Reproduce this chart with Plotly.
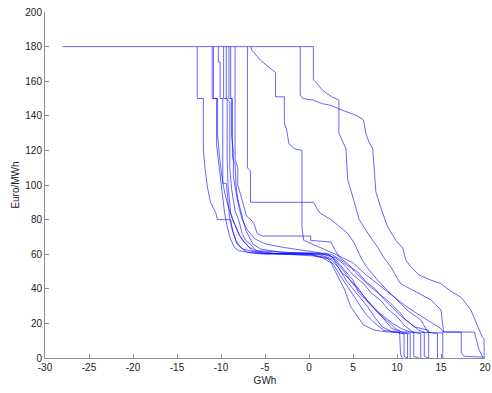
import plotly.graph_objects as go

# Curves (x in GWh, y in Euro/MWh)
c1_x = [-28, 0.5, 0.5, 1.0, 1.5, 2.0, 2.6, 3.4, 3.4, 4.2, 4.3, 4.4, 5.1, 5.7, 6.7, 7.8, 8.5, 9.3, 10.4, 12.4, 13.9, 15.0, 15.3, 17.3, 17.3, 17.6, 19.8]
c1_y = [180, 180, 161, 158, 155, 153, 151, 149, 130, 121, 114, 103, 91, 80, 72, 64, 58, 52.6, 43, 37.6, 33.5, 27.7, 15, 15, 3, 1, 0.5]

c2_x = [-1.0, -1.0, -0.7, 0.5, 1.5, 2.5, 3.4, 4.5, 5.5, 6.2, 6.45, 6.8, 7.24, 7.4, 7.6, 8.15, 8.95, 9.86, 10.66, 11.0, 11.6, 12.5, 13.85, 15.0, 16.0, 17.3, 18.4, 19.2, 19.7, 19.9, 19.9]
c2_y = [180, 152, 150, 149, 147, 146, 144, 142, 140, 137.6, 130, 125, 121, 110, 96, 87, 75.7, 68, 63.6, 56.6, 52.6, 48, 45, 43, 39, 35, 27.7, 18, 12, 11, 0]

c3_x = [-12.7, -12.7, -12.0, -12.0, -11.8, -11.55, -11.2, -10.6, -10.4, -8.9, -8.7, -8.3, -7.8, -7.0, -5.0, 0.0, 1.5, 2.5, 3.0, 3.5, 4.0, 4.7, 5.5, 6.2, 7.5, 9.0, 10.3, 10.4, 10.6]
c3_y = [180, 150, 150, 120, 109, 99, 90, 84, 80, 80, 74, 68, 64, 61, 60, 60, 58, 55, 50, 45, 40, 30, 24, 19, 16, 15, 15, 2, 0]

c4_x = [-11.0, -11.0, -10.5, -10.5, -10.2, -10.0, -9.8, -9.6, -9.3, -9.0, -8.5, -8.0, -6.0, 0.0, 2.0, 2.8, 3.5, 4.3, 5.0, 5.8, 6.5, 7.5, 8.5, 10.0, 10.8, 10.8, 11.2]
c4_y = [180, 150, 150, 123, 110, 100, 92, 84, 76, 70, 64, 62, 60.5, 60, 58, 54, 48, 42, 36, 30, 25, 20, 16, 15, 14, 1, 0]

c5_x = [-10.3, -10.3, -10.1, -10.1, -9.8, -9.8, -9.4, -9.2, -9.0, -8.6, -8.2, -7.5, -6.0, 0.5, 2.5, 3.4, 4.2, 5.0, 5.8, 6.6, 7.4, 8.3, 9.5, 11.2, 11.2]
c5_y = [180, 171, 171, 150, 150, 101, 101, 90, 80, 72, 66, 63, 61, 59, 57, 52, 45, 40, 35, 30, 24, 18, 15, 14, 0]

c6_x = [-9.7, -9.7, -9.3, -9.3, -9.2, -9.0, -8.9, -8.5, -8.2, -7.8, -7.2, -6.5, -5.0, 1.0, 2.8, 3.6, 4.5, 5.5, 6.2, 7.0, 7.8, 8.6, 9.4, 10.5, 11.9, 11.9, 12.5]
c6_y = [180, 150, 150, 115, 100, 90, 84, 78, 74, 70, 66, 62, 60.5, 60, 57, 50, 46, 41, 36, 31, 27, 22, 17, 15, 15, 1, 0]

c7_x = [-9.4, -9.4, -9.0, -9.0, -8.8, -8.6, -8.4, -8.0, -7.6, -7.2, -6.5, -6.0, -4.0, 1.5, 3.0, 4.0, 5.0, 6.2, 7.0, 8.2, 9.0, 10.0, 10.8, 11.8, 12.7, 12.7]
c7_y = [180, 150, 148, 110, 98, 92, 85, 80, 72, 68, 65, 62, 60.5, 60, 58, 54, 48, 43, 38, 33, 28, 24, 19, 15, 14, 0]

c8_x = [-8.9, -8.9, -8.7, -8.7, -8.4, -8.3, -8.1, -7.8, -7.5, -7.2, -6.8, -6.4, -5.5, -3.0, 2.5, 3.5, 4.5, 5.5, 6.5, 7.5, 8.5, 9.5, 10.5, 11.5, 12.5, 13.1, 13.1, 13.6]
c8_y = [180, 150, 150, 116, 112, 100, 92, 86, 80, 74, 70, 66, 63, 61, 60, 57, 53, 50, 44, 40, 34, 29, 24, 20, 16, 15, 1, 0]

c9_x = [-8.4, -8.4, -8.1, -8.1, -7.8, -7.5, -7.1, -6.6, -6.2, -5.9, -5.3, 0.2, 0.2, 2.5, 3.0, 3.5, 4.5, 5.2, 6.0, 7.0, 8.0, 9.2, 10.2, 11.0, 12.0, 13.6, 13.6]
c9_y = [180, 115, 110, 100, 95, 90, 82, 80, 77, 72, 70.5, 70.5, 68, 67, 62, 58, 54, 50, 46, 41, 37, 32, 27, 22, 18, 16, 0]

c10_x = [-7.0, -7.0, -6.65, -6.65, 0.5, 1.2, 2.5, 3.5, 4.4, 5.2, 5.9, 6.5, 7.8, 8.9, 10.1, 11.3, 12.7, 13.5, 14.6, 14.6]
c10_y = [180, 110, 108, 90, 90, 84, 80, 76, 72, 66, 58, 53, 45, 39, 33, 27, 22, 15, 14, 0]

c11_x = [-6.6, -6.5, -5.5, -4.5, -3.8, -3.8, -2.8, -2.8, -2.5, -2.3, -1.7, -0.8, -0.8, -0.6, 3.0, 5.0, 6.5, 8.0, 9.5, 11.0, 12.5, 14.0, 15.0, 15.2, 18.8, 19.3, 19.8]
c11_y = [180, 178, 172, 168, 165, 151, 151, 136, 131, 124, 121, 120, 75, 68, 60, 55, 48, 42, 36, 30, 25, 20, 17, 15, 15, 5, 0]

c12_x = [-10.85, -10.85, -10.4, -10.4, -10.2, -9.9, -9.6, -9.2, -8.7, -8.3, -8.0, -7.4, -6.8, -6.0, -2.0, 2.0, 3.0, 4.0, 5.0, 5.6, 6.5, 7.5, 8.5, 9.5, 10.5, 11.5, 15.2, 15.2]
c12_y = [180, 150, 150, 130, 118, 105, 96, 88, 80, 76, 72, 67, 64, 62, 61, 60.5, 57, 51, 45, 38, 33, 28, 24, 20, 17, 15, 14.5, 0]

c13_x = [-9.1, -9.1, -8.8, -8.8, -8.6, -8.6, -8.3, -8.0, -7.6, -7.0, -6.2, -5.0, -3.0, -0.5, 1.0, 2.5, 3.2, 4.0, 4.8, 5.5, 6.3, 7.2, 8.0, 9.0, 9.8, 10.6, 11.5, 11.5]
c13_y = [180, 150, 150, 128, 120, 105, 96, 88, 80, 74, 69, 66, 64, 62, 61, 59, 55, 50, 44, 40, 35, 30, 25, 21, 17, 15, 14, 0]

curves = [(c1_x, c1_y), (c2_x, c2_y), (c3_x, c3_y), (c4_x, c4_y), (c5_x, c5_y),
          (c6_x, c6_y), (c7_x, c7_y), (c8_x, c8_y), (c9_x, c9_y), (c10_x, c10_y),
          (c11_x, c11_y), (c12_x, c12_y), (c13_x, c13_y)]

x_ticks = [-30, -25, -20, -15, -10, -5, 0, 5, 10, 15, 20]
y_ticks = [0, 20, 40, 60, 80, 100, 120, 140, 160, 180, 200]

fig = go.Figure()
for cx, cy in curves:
    fig.add_trace(go.Scatter(x=cx, y=cy, mode="lines",
                             line=dict(color="rgba(0,0,255,0.6)", width=1),
                             showlegend=False, hoverinfo="skip"))

axis_common = dict(showline=True, linecolor="#8c8c8c", linewidth=1,
                   ticks="inside", ticklen=4, tickcolor="#8c8c8c",
                   showgrid=False, zeroline=False, mirror=False,
                   ticklabeloverflow="allow", automargin=False,
                   tickfont=dict(family="Liberation Sans, Arial", size=10, color="#222"))

fig.update_layout(
    width=492, height=393,
    margin=dict(l=45, r=7, t=12, b=35),
    paper_bgcolor="white", plot_bgcolor="white",
    font=dict(family="Liberation Sans, Arial", size=10, color="#222"),
    xaxis=dict(range=[-30, 20], tickvals=x_ticks, ticktext=[str(v) for v in x_ticks],
               title=dict(text="GWh", standoff=4, font=dict(size=10)), **axis_common),
    yaxis=dict(range=[0, 200], tickvals=y_ticks, ticktext=[str(v) for v in y_ticks],
               title=dict(text="Euro/MWh", standoff=3, font=dict(size=10)), **axis_common),
)

# remove the default page margin so the 492x393 figure fills the window exactly
fig.write_html("out.html",
               config={"displayModeBar": False, "staticPlot": True},
               post_script="document.body.style.margin='0';document.body.style.overflow='hidden';")
